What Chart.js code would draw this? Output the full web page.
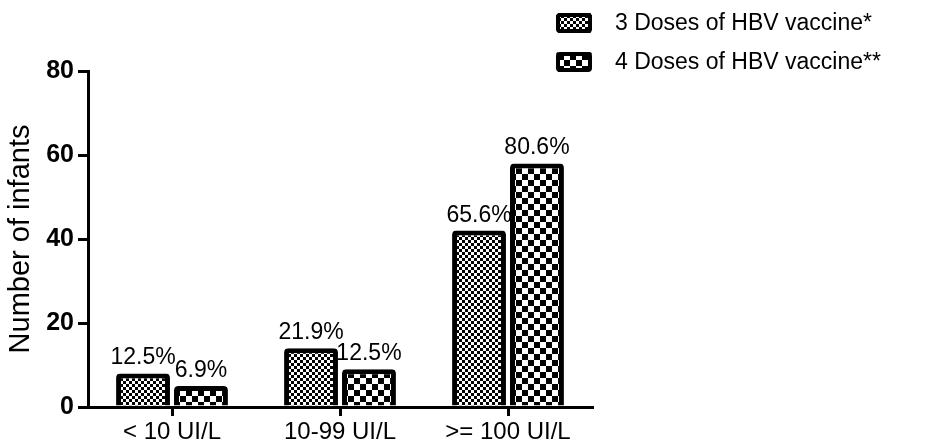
<!DOCTYPE html>
<html>
<head>
<meta charset="utf-8">
<script src="https://cdn.jsdelivr.net/npm/chart.js@4.4.0/dist/chart.umd.min.js"></script>
<style>
  html, body { margin: 0; padding: 0; background: #fff; }
</style>
</head>
<body>
<canvas id="hbvChart" width="937" height="443"></canvas>
<script>
// data
const categories = ["< 10 UI/L", "10-99 UI/L", ">= 100 UI/L"];
const seriesNames = ["3 Doses of HBV vaccine*", "4 Doses of HBV vaccine**"];
const dose3Values = [8, 14, 42];
const dose4Values = [5, 9, 58];
const dose3Pct = ["12.5%", "21.9%", "65.6%"];
const dose4Pct = ["6.9%", "12.5%", "80.6%"];
const yMin = 0, yMax = 80, yStep = 20;

const FONT = '"Liberation Sans", Arial, Helvetica, sans-serif';

// checkerboard fills
function checker(cell) {
  var c = document.createElement('canvas');
  c.width = cell * 2;
  c.height = cell * 2;
  var g = c.getContext('2d');
  g.fillStyle = '#fff';
  g.fillRect(0, 0, c.width, c.height);
  g.fillStyle = '#000';
  g.fillRect(0, 0, cell, cell);
  g.fillRect(cell, cell, cell, cell);
  return document.getElementById('hbvChart').getContext('2d').createPattern(c, 'repeat');
}
const fineFill = checker(3);
const coarseFill = checker(6);

//////////////////////////////
// % labels above bars
const pctLabels = {
  id: 'pctLabels',
  afterDatasetsDraw(chart) {
    var ctx = chart.ctx;
    ctx.save();
    ctx.font = '23px ' + FONT;
    ctx.fillStyle = '#000';
    ctx.textAlign = 'center';
    ctx.textBaseline = 'alphabetic';
    [dose3Pct, dose4Pct].forEach(function (labels, i) {
      chart.getDatasetMeta(i).data.forEach(function (bar, j) {
        ctx.fillText(labels[j], bar.x, bar.y - 9);
      });
    });
    ctx.restore();
  }
};

// legend in the top right corner
const cornerLegend = {
  id: 'cornerLegend',
  afterDraw(chart) {
    var ctx = chart.ctx;
    var fills = [fineFill, coarseFill];
    ctx.save();
    ctx.font = '23px ' + FONT;
    ctx.textBaseline = 'middle';
    ctx.textAlign = 'left';
    seriesNames.forEach(function (name, i) {
      var cy = 23 + i * 39;
      ctx.beginPath();
      ctx.roundRect(556, cy - 10, 36, 20, 3);
      ctx.fillStyle = fills[i];
      ctx.fill();
      ctx.lineWidth = 4;
      ctx.strokeStyle = '#000';
      ctx.beginPath();
      ctx.roundRect(558, cy - 8, 32, 16, 2);
      ctx.stroke();
      ctx.fillStyle = '#000';
      ctx.fillText(name, 615, cy + 1);
    });
    ctx.restore();
  }
};

const data = {
  labels: categories,
  datasets: [{
    label: seriesNames[0],
    data: dose3Values,
    backgroundColor: fineFill,
    borderColor: '#000',
    borderWidth: 5,
    borderRadius: 4,
    borderSkipped: 'start'
  }, {
    label: seriesNames[1],
    data: dose4Values,
    backgroundColor: coarseFill,
    borderColor: '#000',
    borderWidth: 5,
    borderRadius: 4,
    borderSkipped: 'start'
  }]
};

const config = {
  type: 'bar',
  data: data,
  plugins: [pctLabels, cornerLegend],
  options: {
    responsive: false,
    animation: false,
    devicePixelRatio: 1,
    categoryPercentage: 0.69,
    barPercentage: 0.93,
    layout: { padding: { top: 71, right: 345, left: 0, bottom: 0 } },
    plugins: {
      legend: { display: false },
      tooltip: { enabled: false }
    },
    scales: {
      x: {
        afterFit: function (scale) { scale.height = 36; },
        grid: {
          offset: false,
          drawOnChartArea: false,
          color: '#000',
          lineWidth: 3,
          tickLength: 9
        },
        border: { color: '#000', width: 3 },
        ticks: {
          color: '#000',
          padding: 4,
          font: { family: FONT, size: 24, lineHeight: 1 }
        }
      },
      y: {
        min: yMin,
        max: yMax,
        afterFit: function (scale) { scale.width = 88; },
        title: {
          display: true,
          text: 'Number of infants',
          color: '#000',
          padding: { top: 4, bottom: 0 },
          font: { family: FONT, size: 29 }
        },
        grid: {
          drawOnChartArea: false,
          color: '#000',
          lineWidth: 3,
          tickLength: 10
        },
        border: { color: '#000', width: 3 },
        ticks: {
          stepSize: yStep,
          color: '#000',
          padding: 4,
          font: { family: FONT, size: 25, weight: 'bold' }
        }
      }
    }
  }
};

var ch1 = new Chart("hbvChart", config);
</script>
</body>
</html>
